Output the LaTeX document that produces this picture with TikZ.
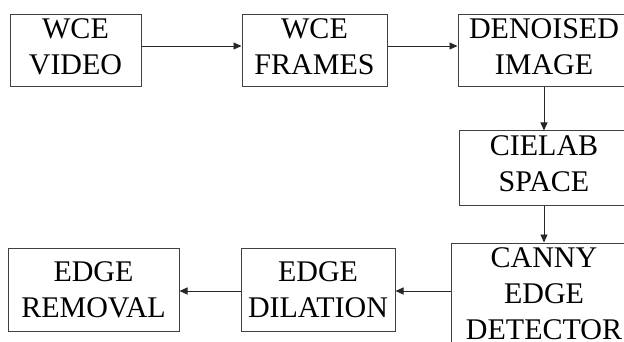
\documentclass[tikz,border=0pt]{standalone}
\usepackage{fontspec}
\setmainfont{Liberation Serif}
\usetikzlibrary{arrows.meta}
\begin{document}
\begin{tikzpicture}[x=1pt,y=-1pt,
  box/.style={draw=black!75,line width=1pt,align=center,inner sep=0pt,
    font=\fontsize{30pt}{36pt}\selectfont},
  arr/.style={draw=black!85,line width=0.9pt,-{Triangle[length=8pt,width=7pt]}}]
\useasboundingbox (0,0) rectangle (624,342);
\clip (0,0) rectangle (624,342);
\node[box,minimum width=131pt,minimum height=72pt,text depth=9pt] (video) at (75.5,51) {WCE\\VIDEO};
\node[box,minimum width=145pt,minimum height=72pt,text depth=9pt] (frames) at (314.5,51) {WCE\\FRAMES};
\node[box,minimum width=172pt,minimum height=72pt,text depth=9pt] (denoised) at (544,51) {DENOISED\\IMAGE};
\node[box,minimum width=170pt,minimum height=74pt,text depth=9pt] (cielab) at (544,168) {CIELAB\\SPACE};
\node[box,minimum width=186pt,minimum height=102pt] (canny) at (544,294) {CANNY\\EDGE\\DETECTOR};
\node[box,minimum width=154pt,minimum height=83pt] (dilation) at (318,289.5) {EDGE\\DILATION};
\node[box,minimum width=171pt,minimum height=83pt] (removal) at (93.5,289.5) {EDGE\\REMOVAL};
\draw[arr] ([yshift=5pt]video.east) -- ([yshift=5pt]video.east -| frames.west);
\draw[arr] ([yshift=5pt]frames.east) -- ([yshift=5pt]frames.east -| denoised.west);
\draw[arr] (denoised.south) -- (cielab.north);
\draw[arr] (cielab.south) -- (canny.north);
\draw[arr] ([yshift=3pt]canny.west) -- ([yshift=3pt]canny.west -| dilation.east);
\draw[arr] ([yshift=-1.5pt]dilation.west) -- ([yshift=-1.5pt]dilation.west -| removal.east);
\end{tikzpicture}
\end{document}
